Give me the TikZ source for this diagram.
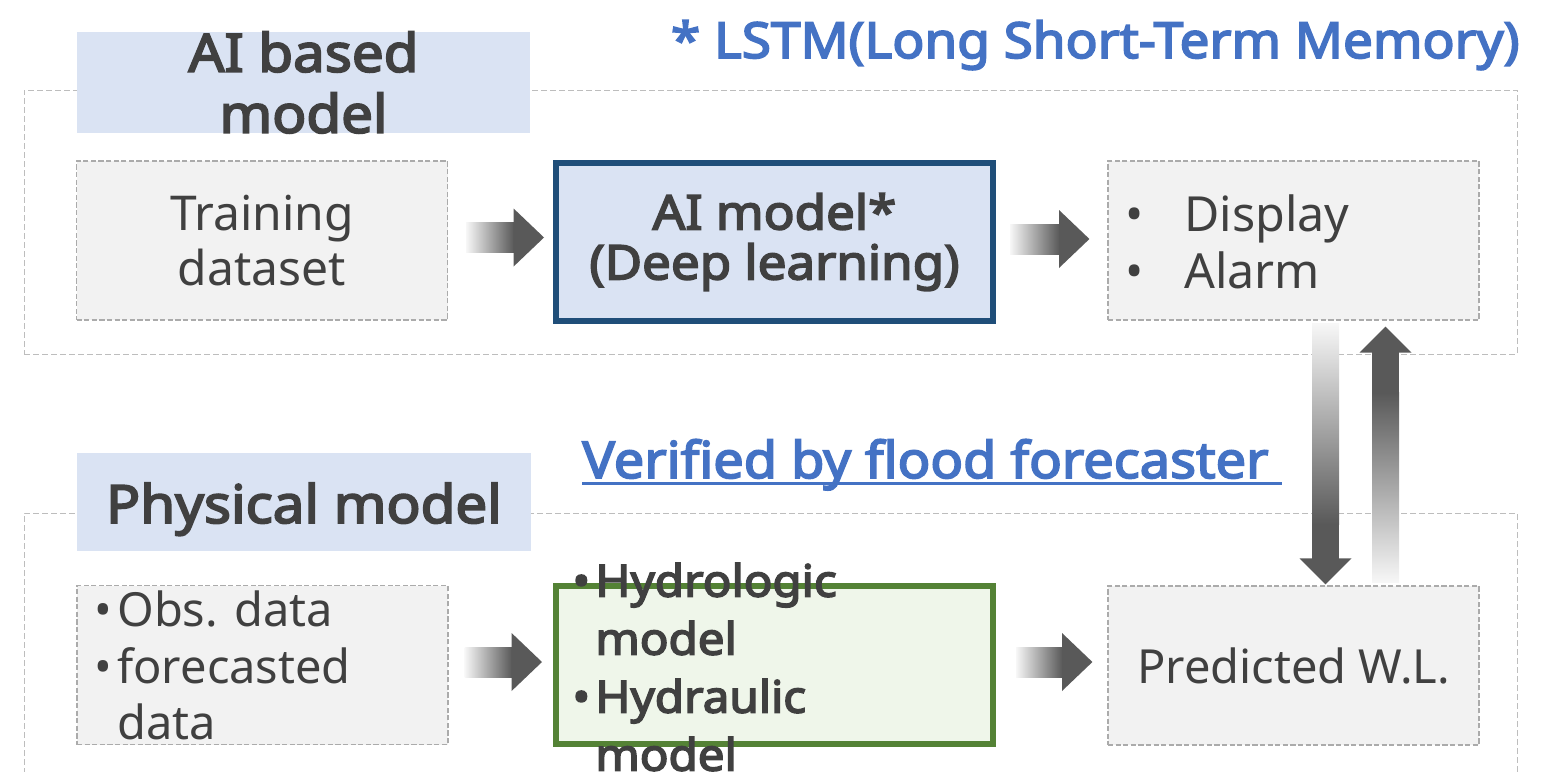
\documentclass[tikz,border=0pt]{standalone}
\usepackage{fontspec}
\setmainfont{Noto Sans}[BoldFont={Noto Sans}, BoldFeatures={FakeBold=3.5, FakeStretch=1.07}]
\usetikzlibrary{calc}

\definecolor{txt}{HTML}{404040}
\definecolor{ag}{HTML}{595959}
\definecolor{shadelo}{HTML}{F7F7F7}
\definecolor{boxfill}{HTML}{F2F2F2}
\definecolor{boxline}{HTML}{ABABAB}
\definecolor{frameline}{HTML}{BDBDBD}
\definecolor{lblue}{HTML}{DAE3F3}
\definecolor{navy}{HTML}{1F4E79}
\definecolor{leaf}{HTML}{548235}
\definecolor{leaffill}{HTML}{EFF6EA}
\definecolor{accent}{HTML}{4472C4}

\newcommand\fsz[2]{\fontsize{#1}{#2}\selectfont}

% fat horizontal arrow: gradient shaft, solid head (#1 tail, #2 tip)
\newcommand\rightfat[2]{%
  \shade[left color=shadelo, right color=ag] let \p1=#1, \p2=#2 in
    (\x1,\y1-7.5pt) rectangle (\x2-15pt,\y1+7.5pt);
  \fill[ag] let \p1=#1, \p2=#2 in
    (\x2-15.2pt,\y1-14.5pt) -- (\x2,\y1) -- (\x2-15.2pt,\y1+14.5pt) -- cycle;}
% fat downward arrow
\newcommand\downfat[2]{%
  \shade[top color=shadelo, bottom color=ag] let \p1=#1, \p2=#2 in
    (\x1-6.75pt,\y1) rectangle (\x1+6.75pt,\y2+30pt);
  \fill[ag] let \p1=#1, \p2=#2 in
    (\x1-6.75pt,\y2+30.2pt) rectangle (\x1+6.75pt,\y2+12.8pt);
  \fill[ag] let \p1=#1, \p2=#2 in
    (\x1-13pt,\y2+13pt) -- (\x1,\y2) -- (\x1+13pt,\y2+13pt) -- cycle;}
% fat upward arrow
\newcommand\upfat[2]{%
  \shade[bottom color=shadelo, top color=ag] let \p1=#1, \p2=#2 in
    (\x1-6.75pt,\y1) rectangle (\x1+6.75pt,\y2-33pt);
  \fill[ag] let \p1=#1, \p2=#2 in
    (\x1-6.75pt,\y2-33.2pt) rectangle (\x1+6.75pt,\y2-12.8pt);
  \fill[ag] let \p1=#1, \p2=#2 in
    (\x1-13pt,\y2-13pt) -- (\x1,\y2) -- (\x1+13pt,\y2-13pt) -- cycle;}

\begin{document}
\begin{tikzpicture}[x=0.5pt,y=-0.5pt,
  frame/.style={draw=frameline, line width=0.5pt, dash pattern=on 3pt off 1.5pt,
    inner sep=0pt},
  greybox/.style={draw=boxline, fill=boxfill, line width=0.6pt,
    dash pattern=on 2.6pt off 1.2pt, inner sep=0pt,
    minimum width=185.5pt, minimum height=79.5pt,
    text=txt, font=\fsz{24pt}{27.5pt}, align=center},
  tag/.style={fill=lblue, inner sep=0pt, text=txt, align=center,
    font=\bfseries\fsz{26.4pt}{30.5pt}},
  modelbox/.style={line width=3pt, inner sep=0pt,
    minimum width=218.5pt, minimum height=79pt, text=txt, align=center},
  listtext/.style={anchor=west, inner sep=0pt, text=txt, align=left},
  note/.style={inner sep=0pt, text=accent, font=\bfseries\fsz{24.8pt}{28pt}}]
\useasboundingbox (0,0) rectangle (1558,771);

% outer dashed frames
\node[frame, minimum width=746.5pt, minimum height=132pt] (frameA) at (770.5,222) {};
\node[frame, minimum width=746.5pt, minimum height=143.5pt] (frameB) at (770.5,656.5) {};

% section tags
\node[tag, minimum width=226.5pt, minimum height=48.5pt] (tagA) at (303.5,82.5) {AI based\\model};
\node[tag, minimum width=227pt, minimum height=49pt, text height=26pt, text depth=5pt]
  (tagB) at (304,502) {Physical model};

% upper row
\node[greybox] (train) at (262,240.5) {Training\\dataset};
\node[modelbox, draw=navy, fill=lblue, font=\bfseries\fsz{23.9pt}{25pt}] (ai) at (774.5,242)
  {AI model*\\(Deep learning)};
\node[greybox] (out) at (1293.5,240.5) {};
\node[listtext, font=\fsz{24.2pt}{28.5pt}] (outtxt) at (1125,241.5)
  {\makebox[29.5pt][l]{•}Display\\\makebox[29.5pt][l]{•}Alarm};

% lower row
\node[greybox] (obs) at (262.5,665) {};
\node[listtext, font=\fsz{23.5pt}{28.25pt}] (obstxt) at (94,665.5)
  {\makebox[11.5pt][l]{•}Obs. data\\\makebox[11.5pt][l]{•}forecasted\\\hspace*{11.5pt}data};
\node[modelbox, draw=leaf, fill=leaffill] (phys) at (774.5,665) {};
\node[listtext, font=\bfseries\fsz{22.2pt}{29pt}] (phystxt) at (572,667)
  {\makebox[11.5pt][l]{•}Hydrologic\\\hspace*{11.5pt}model\\\makebox[11.5pt][l]{•}Hydraulic\\\hspace*{11.5pt}model};
\node[greybox, font=\fsz{23.5pt}{27.5pt}] (pred) at (1293.5,665.5) {Predicted W.L.};

% notes
\node[note, anchor=base east] (lstm) at (1520,58) {* LSTM(Long Short-Term Memory)};
\node[note, anchor=base west, font=\bfseries\fsz{25.3pt}{28pt}] (verify) at (582,478)
  {Verified by flood forecaster};
\draw[accent, line width=1.4pt] ([yshift=-2.6pt]verify.base west) -- ([xshift=6.5pt,yshift=-2.6pt]verify.base east);

% flow arrows
\rightfat{($(train.east)+(18,-3)$)}{($(ai.west)+(-9,-3)$)}
\rightfat{($(ai.east)+(14,-3)$)}{($(out.west)+(-18,-3)$)}
\rightfat{($(obs.east)+(16,-3)$)}{($(phys.west)+(-11,-3)$)}
\rightfat{($(phys.east)+(20,-3)$)}{($(pred.west)+(-15,-3)$)}
\downfat{($(out.south)+(32,3)$)}{($(pred.north)+(32,-1)$)}
\upfat{($(pred.north)+(92,-3)$)}{($(out.south)+(92,6)$)}
\end{tikzpicture}
\end{document}
